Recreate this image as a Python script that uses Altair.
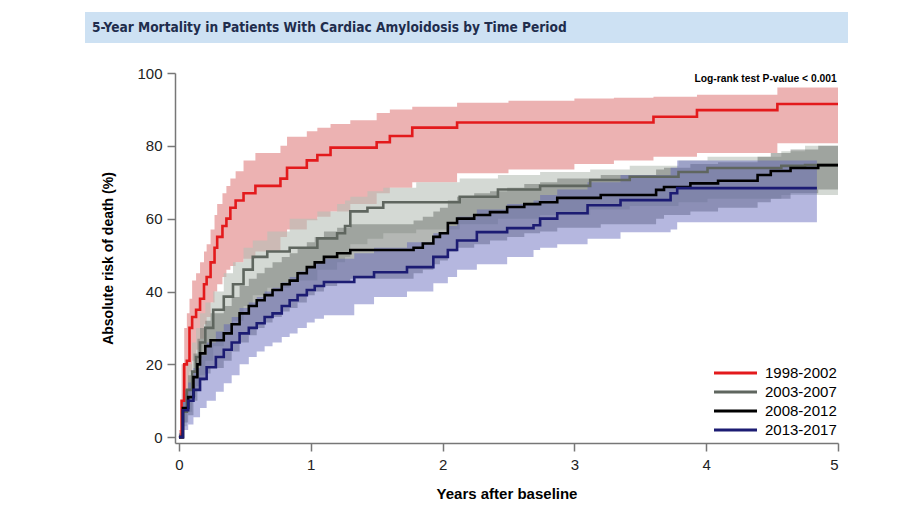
import altair as alt
import pandas as pd

series = ["1998-2002", "2003-2007", "2008-2012", "2013-2017"]
line_colors = ["#e31a1c", "#5f665f", "#000000", "#1c1c73"]
band_colors = ["#d45555", "#b8c0b8", "#6a706a", "#5a5fb8"]
band_opacity = [0.45, 0.6, 0.5, 0.45]
end_times = [5.0, 5.0, 5.0, 4.84]

red_t = [0, .02, .04, .06, .08, .10, .13, .16, .19, .21, .24, .27, .29, .33, .36, .39, .43, .49, .58, .77, .82, .97, 1.05, 1.15, 1.30, 1.50, 1.60, 1.77, 2.11, 2.50, 3.00, 3.30, 3.60, 3.93, 4.54]
red_y = [0, 10, 20, 21, 30, 33, 35, 38, 42, 44, 48, 52, 55, 58, 60, 63, 65, 67, 69, 71, 74, 76, 77.5, 79.5, 79.5, 81, 82.7, 85, 86.4, 86.4, 86.4, 86.4, 88, 89.8, 91.5]
red_hi = [2, 20, 30, 34, 38, 43, 45, 48, 51, 53, 57, 61, 64, 67, 69, 71, 73, 76, 78, 80, 82.5, 84, 85, 86, 87, 89, 90, 90.7, 91.8, 92.4, 93, 93.2, 93.5, 94, 96]
red_lo = [0, 4, 10, 12, 18, 21, 24, 27, 31, 33, 37, 40, 42, 44, 46, 47, 48, 49, 51, 55, 57, 59.6, 60.5, 62, 64, 67, 68.5, 70, 72.5, 73.5, 75, 76, 77, 78, 80.7]

gry_t = [0, .03, .06, .10, .13, .16, .20, .26, .34, .41, .49, .56, .67, .84, 1.05, 1.20, 1.26, 1.30, 1.43, 1.55, 1.80, 2.13, 2.42, 2.74, 3.12, 3.42, 3.79, 4.01, 4.57, 4.75]
gry_y = [0, 7, 13, 18, 22, 26, 30, 35, 38.6, 42, 46, 49.5, 51, 52, 54.6, 56, 58, 62, 63, 64.5, 64.5, 66, 68, 69, 70.6, 71.5, 72.8, 73.9, 74.5, 74.7]
gry_hi = [1, 13, 20, 26, 30, 34, 37, 40, 45, 48, 52, 54, 56.5, 60, 62, 64, 65, 66, 67.5, 68.5, 70, 71, 72, 72.8, 73.5, 74.5, 76, 77, 78.5, 80]
gry_lo = [0, 3, 7, 11, 14, 17, 21, 25, 29, 32, 36, 39, 41, 43, 46, 48, 49.5, 53, 54.5, 56, 57, 58.5, 60, 61, 62.5, 63.5, 64.5, 65.5, 66.5, 66.5]

blk_t = [0, .03, .07, .11, .14, .16, .20, .24, .34, .40, .46, .53, .59, .65, .71, .78, .84, .90, .97, 1.03, 1.10, 1.20, 1.30, 1.78, 1.85, 1.93, 1.98, 2.04, 2.11, 2.24, 2.36, 2.49, 2.62, 2.74, 2.87, 3.20, 3.62, 3.68, 3.88, 4.09, 4.39, 4.49, 4.64, 4.85]
blk_y = [0, 8, 11, 16.5, 20, 23, 25, 26.6, 28.5, 31, 34, 36, 37.6, 39, 40.4, 42, 43, 45, 46.7, 48, 49.5, 50.5, 51.4, 52, 53.2, 55, 56, 58.8, 60, 61, 61.8, 63.2, 64, 64.5, 65.7, 66.5, 67.9, 68.7, 69.7, 70.4, 72, 73.1, 73.9, 74.7]
blk_hi = [1, 13, 17, 23, 27, 30, 32, 34, 36, 38.5, 41.5, 43.5, 45, 46.5, 48, 49.5, 50.5, 52, 53.5, 55, 56.5, 57.5, 58.5, 59.5, 60.5, 62, 63, 65, 66, 67, 67.5, 68.5, 69.5, 70, 71, 72, 73.5, 74, 75, 75.5, 77, 78, 79, 80]
blk_lo = [0, 4, 6, 10, 13, 15.5, 17.5, 19, 21, 23.5, 26, 28, 30, 31.5, 33, 34.5, 35.5, 37, 39, 40, 41.5, 42.5, 43.5, 45, 46, 47.5, 48.5, 51, 52, 53, 54, 55, 56, 56.5, 57.5, 58.5, 60, 61, 62, 63, 64.5, 65.5, 67, 68]

nav_t = [0, .03, .07, .11, .16, .21, .28, .34, .40, .46, .53, .59, .65, .71, .78, .84, .90, .97, 1.03, 1.10, 1.33, 1.48, 1.73, 1.93, 2.04, 2.11, 2.26, 2.49, 2.69, 2.74, 2.87, 3.10, 3.35, 3.73, 3.78]
nav_y = [0, 7.4, 10, 13, 16, 19.2, 22, 24, 26, 28.5, 30, 31.3, 33, 34, 36, 37.6, 39, 40.4, 41.5, 42.6, 44, 45.3, 46.7, 49.5, 51.4, 54, 56.3, 57.4, 58.2, 60, 61.5, 63.7, 65.1, 67, 68.4]
nav_hi = [1, 12, 15, 19, 22.5, 26, 29, 31, 33, 35.5, 37, 38.5, 40, 41, 42.5, 44, 45.5, 47, 48, 49, 50.5, 52, 53.5, 56, 58, 60.5, 62.5, 64, 65, 66.5, 68, 70, 72, 74, 76]
nav_lo = [0, 2, 3.5, 5.5, 8, 10, 12.5, 14.8, 17, 20, 22, 23.5, 25, 26, 27.5, 28.5, 30, 31.5, 32.5, 33.5, 36.5, 38.5, 40, 42.3, 44, 46, 47.5, 49.5, 51.4, 52, 53, 54.5, 56.3, 57, 59]

x_ticks = [0, 1, 2, 3, 4, 5]
y_ticks = [0, 20, 40, 60, 80, 100]
title_text = "5-Year Mortality in Patients With Cardiac Amyloidosis by Time Period"
pvalue_text = "Log-rank test P-value < 0.001"

rows = []
all_data = [
    (series[0], red_t, red_y, red_lo, red_hi, end_times[0]),
    (series[1], gry_t, gry_y, gry_lo, gry_hi, end_times[1]),
    (series[2], blk_t, blk_y, blk_lo, blk_hi, end_times[2]),
    (series[3], nav_t, nav_y, nav_lo, nav_hi, end_times[3]),
]
for name, t, y, lo, hi, end in all_data:
    for a, b, c, d in zip(t, y, lo, hi):
        rows.append({"series": name, "t": a, "y": b, "lo": c, "hi": d})
    rows.append({"series": name, "t": end, "y": y[-1], "lo": lo[-1], "hi": hi[-1]})
df = pd.DataFrame(rows)

FONT = "Liberation Sans"

xscale = alt.Scale(domain=[-0.03, 5], nice=False, zero=False)
yscale = alt.Scale(domain=[-1.6, 100], nice=False, zero=False)

x_axis = alt.Axis(
    values=x_ticks, title="Years after baseline", format="d",
    labelFont=FONT, labelFontSize=15, labelColor="#222", labelPadding=6,
    tickSize=8, tickColor="#777", tickWidth=1.5, domainColor="#777", domainWidth=1.5,
    titleFont=FONT, titleFontSize=15, titleFontWeight="bold", titleColor="black",
    titlePadding=14, grid=False)
y_axis = alt.Axis(
    values=y_ticks, title="Absolute risk of death (%)", format="d",
    labelFont=FONT, labelFontSize=15, labelColor="#222", labelPadding=5,
    tickSize=8, tickColor="#777", tickWidth=1.5, domainColor="#777", domainWidth=1.5,
    titleFont=FONT, titleFontSize=14, titleFontWeight="bold", titleColor="black",
    titlePadding=21, grid=False)

band_layers = []
for i, name in enumerate(series):
    band_layers.append(
        alt.Chart(df).transform_filter(alt.datum.series == name).mark_area(
            interpolate="step-after", color=band_colors[i], opacity=band_opacity[i]
        ).encode(
            x=alt.X("t:Q", scale=xscale, axis=x_axis),
            y=alt.Y("lo:Q", scale=yscale, axis=y_axis),
            y2="hi:Q",
        )
    )

lines = alt.Chart(df).mark_line(interpolate="step-after", strokeWidth=2.6).encode(
    x=alt.X("t:Q", scale=xscale, axis=x_axis),
    y=alt.Y("y:Q", scale=yscale, axis=y_axis),
    stroke=alt.Stroke("series:N", scale=alt.Scale(domain=series, range=line_colors),
                      legend=alt.Legend(title=None, orient="none", legendX=553, legendY=292.5,
                                        symbolType="M-4.3,0H4.3", symbolSize=100,
                                        symbolStrokeWidth=3, labelFont=FONT, labelFontSize=15,
                                        labelColor="black", labelOffset=22, rowPadding=3,
                                        padding=0)),
)

ptext = alt.Chart(pd.DataFrame({"label": [pvalue_text]})).mark_text(
    align="right", baseline="middle", font=FONT, fontSize=10.3, fontWeight="bold", color="black"
).encode(x=alt.datum(4.99), y=alt.datum(98.3), text="label:N")

banner = alt.Chart(pd.DataFrame({"label": [title_text]})).mark_rect(color="#cde1f3").encode(
    x=alt.value(-90), x2=alt.value(673), y=alt.value(-61), y2=alt.value(-30))

banner_text = alt.Chart(pd.DataFrame({"label": [title_text]})).mark_text(
    align="left", baseline="middle", font="DejaVu Sans Condensed", fontSize=13.6,
    fontWeight="bold", color="#1f2d4d"
).encode(x=alt.value(-83), y=alt.value(-45), text="label:N")

chart = alt.layer(banner, banner_text, *band_layers, lines, ptext).properties(
    width=663, height=370,
    autosize=alt.AutoSizeParams(type="none"),
    padding={"left": 167, "top": 65, "right": 60, "bottom": 70},
    background="white",
).configure_view(stroke=None)

chart.save("out.html", embed_options={"renderer": "svg", "actions": False})
